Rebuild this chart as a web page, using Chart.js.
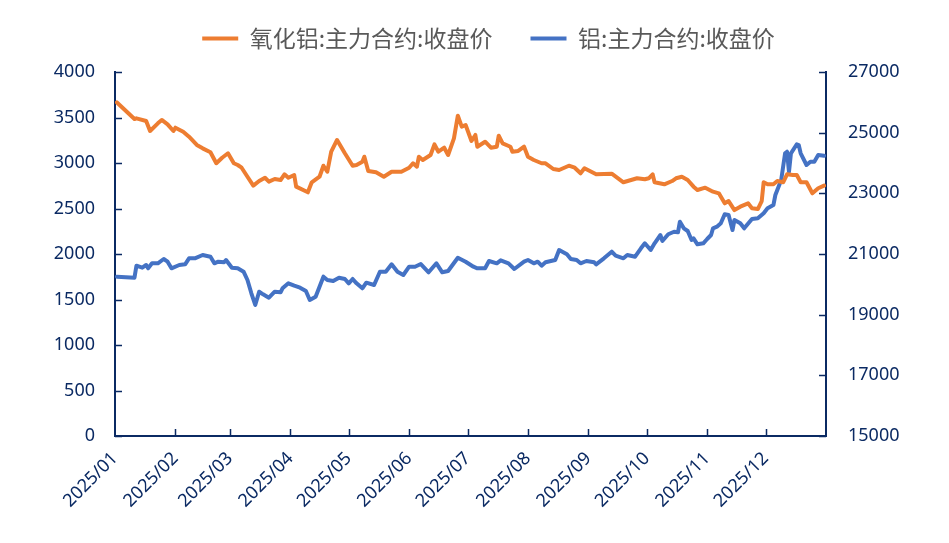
<!DOCTYPE html>
<html>
<head>
<meta charset="utf-8">
<script src="https://cdn.jsdelivr.net/npm/chart.js@4.4.1/dist/chart.umd.min.js"></script>
<style>
html, body { margin: 0; padding: 0; background: #fff; }
</style>
</head>
<body>
<canvas id="priceChart" width="949" height="543"></canvas>
<script>
const monthLabels = ['2025/01', '2025/02', '2025/03', '2025/04', '2025/05', '2025/06',
    '2025/07', '2025/08', '2025/09', '2025/10', '2025/11', '2025/12'];

const aluminaName = '氧化铝:主力合约:收盘价';
const aluminaDates = ['01-02','01-11','01-12','01-17','01-19','01-23','01-25','01-28','01-31',
    '02-01','02-05','02-08','02-12','02-15','02-19','02-22','02-25','02-28',
    '03-03','03-05','03-07','03-10','03-13','03-16','03-19','03-21','03-24','03-27','03-29','03-31',
    '04-03','04-04','04-10','04-12','04-16','04-18','04-20','04-22','04-25','04-29',
    '05-03','05-05','05-08','05-09','05-11','05-15','05-19','05-23','05-28',
    '06-01','06-03','06-05','06-06','06-08','06-12','06-14','06-16','06-19','06-21','06-24','06-26','06-28','06-30',
    '07-03','07-05','07-06','07-10','07-13','07-16','07-17','07-19','07-23','07-24','07-27','07-30',
    '08-01','08-04','08-08','08-10','08-14','08-17','08-22','08-25','08-28','08-30',
    '09-04','09-05','09-13','09-19','09-26','09-30',
    '10-02','10-04','10-05','10-10','10-14','10-16','10-19','10-22','10-25','10-27','10-31',
    '11-04','11-07','11-10','11-12','11-15','11-18','11-22','11-24','11-27','11-29','11-30',
    '12-02','12-05','12-07','12-10','12-12','12-15','12-17','12-19','12-22','12-25','12-28','12-31'];
const aluminaClose = [3665,3483,3491,3462,3352,3436,3473,3425,3352,
    3388,3344,3289,3198,3161,3118,2997,3058,3107,
    2997,2978,2948,2849,2751,2802,2838,2795,2824,2813,2876,2838,
    2868,2740,2678,2788,2849,2970,2904,3124,3253,3107,
    2970,2978,3014,3069,2912,2898,2849,2904,2904,
    2948,2997,2959,3069,3033,3088,3205,3124,3168,3088,3271,3520,3399,3418,
    3242,3308,3179,3234,3168,3179,3300,3216,3179,3124,3132,3179,
    3069,3033,2997,2997,2934,2923,2970,2948,2887,2942,
    2887,2876,2882,2788,2832,2821,
    2832,2876,2788,2766,2802,2832,2849,2813,2740,2703,2729,
    2685,2667,2557,2582,2483,2520,2557,2502,2494,2582,2788,
    2766,2766,2802,2788,2876,2868,2868,2788,2788,2667,2722,2751];

const aluName = '铝:主力合约:收盘价';
const aluDates = ['01-02','01-11','01-12','01-15','01-17','01-18','01-20','01-23','01-26','01-28','01-30',
    '02-03','02-06','02-08','02-11','02-15','02-19','02-21','02-23','02-26','02-27',
    '03-02','03-05','03-08','03-10','03-12','03-14','03-16','03-18','03-21','03-24','03-27','03-28','03-31',
    '04-03','04-06','04-09','04-11','04-14','04-16','04-18','04-20','04-23','04-26','04-29',
    '05-01','05-03','05-05','05-08','05-10','05-14','05-17','05-20','05-23','05-26','05-29',
    '06-01','06-04','06-07','06-11','06-15','06-18','06-21','06-26','06-30',
    '07-04','07-06','07-10','07-12','07-16','07-18','07-22','07-25','07-30',
    '08-01','08-04','08-06','08-08','08-10','08-15','08-17','08-21','08-23','08-26','08-28','08-31',
    '09-04','09-05','09-09','09-13','09-15','09-19','09-21','09-25','09-28','09-30',
    '10-03','10-05','10-08','10-09','10-12','10-15','10-17','10-18','10-20','10-22','10-24','10-25','10-27','10-30',
    '11-01','11-03','11-04','11-06','11-08','11-10','11-12','11-14','11-15','11-18','11-20','11-24','11-27','11-30',
    '12-02','12-05','12-06','12-09','12-11','12-12','12-13','12-14','12-17','12-18','12-19','12-22','12-24','12-26','12-28','12-31'];
const aluClose = [20252,20219,20614,20548,20637,20529,20693,20693,20835,20746,20529,
    20637,20660,20858,20858,20967,20911,20693,20746,20726,20802,
    20548,20529,20416,20143,19704,19319,19757,19671,19559,19757,19737,19869,20034,
    19955,19889,19780,19483,19592,19922,20252,20143,20110,20219,20176,
    20034,20176,20034,19869,20054,19978,20416,20416,20660,20416,20308,
    20581,20581,20670,20397,20693,20397,20440,20878,20746,
    20581,20529,20529,20769,20693,20792,20693,20505,20746,
    20802,20693,20746,20614,20726,20802,21132,20990,20835,20802,20693,20769,
    20726,20660,20858,21076,20944,20858,20967,20911,21188,21353,
    21132,21353,21626,21429,21650,21735,21715,22065,21847,21758,21462,21518,21320,21353,
    21495,21626,21847,21900,22012,22309,22286,21791,22121,22012,21847,22154,22177,22342,
    22507,22615,22945,23440,24320,24373,23713,24320,24617,24593,24320,23934,24043,24043,24264,24241];

const axisColor = '#0b2a63';
const labelColor = '#0b2a63';
const yearStart = Date.UTC(2025, 0, 1);

function dayOf(month, day) {
    return (Date.UTC(2025, month - 1, day) - yearStart) / 86400000;
}

function toPoints(dates, values) {
    return dates.map((md, i) => {
        const [m, d] = md.split('-').map(Number);
        return { x: dayOf(m, d), y: values[i] };
    });
}

const monthStarts = monthLabels.map(l => dayOf(Number(l.split('/')[1]), 1));

// legend box gets a fixed height so the plot starts where the original does
const legendHeight = {
    id: 'legendHeight',
    beforeLayout(chart) {
        const lg = chart.legend;
        if (lg && !lg._fixed) {
            const fit = lg.fit.bind(lg);
            lg.fit = function () { fit(); this.height = 83; };
            lg._fixed = true;
        }
    }
};

// tick marks pointing into the plot, like the original
const innerTicks = {
    id: 'innerTicks',
    afterDraw(chart) {
        const { ctx, chartArea, scales } = chart;
        const len = 7;
        ctx.save();
        ctx.strokeStyle = axisColor;
        ctx.lineWidth = 1.5;
        ctx.beginPath();
        scales.x.ticks.forEach(t => {
            if (t.value <= 0) return;
            const px = Math.round(scales.x.getPixelForValue(t.value)) + 0.5;
            ctx.moveTo(px, chartArea.bottom);
            ctx.lineTo(px, chartArea.bottom - len);
        });
        scales.y.ticks.forEach(t => {
            const py = Math.round(scales.y.getPixelForValue(t.value)) + 0.5;
            ctx.moveTo(chartArea.left, py);
            ctx.lineTo(chartArea.left + len, py);
        });
        scales.y1.ticks.forEach(t => {
            const py = Math.round(scales.y1.getPixelForValue(t.value)) + 0.5;
            ctx.moveTo(chartArea.right, py);
            ctx.lineTo(chartArea.right - len, py);
        });
        ctx.stroke();
        ctx.restore();
    }
};

const tickFont = { family: '"Noto Sans", sans-serif', size: 18 };

new Chart(document.getElementById('priceChart'), {
    type: 'line',
    data: {
        datasets: [{
            label: aluminaName,
            data: toPoints(aluminaDates, aluminaClose),
            borderColor: '#ED7D31',
            backgroundColor: '#ED7D31',
            borderWidth: 4,
            borderCapStyle: 'round',
            borderJoinStyle: 'round',
            pointRadius: 0,
            tension: 0,
            yAxisID: 'y'
        }, {
            label: aluName,
            data: toPoints(aluDates, aluClose),
            borderColor: '#4472C4',
            backgroundColor: '#4472C4',
            borderWidth: 4,
            borderCapStyle: 'round',
            borderJoinStyle: 'round',
            pointRadius: 0,
            tension: 0,
            yAxisID: 'y1'
        }]
    },
    options: {
        responsive: false,
        animation: false,
        layout: { padding: { left: 28, right: 0, top: -11, bottom: 0 } },
        plugins: {
            legend: {
                position: 'top',
                labels: {
                    usePointStyle: true,
                    pointStyle: 'line',
                    pointStyleWidth: 36,
                    padding: 38,
                    color: '#595959',
                    font: { family: '"Noto Sans CJK SC", sans-serif', size: 23 }
                }
            },
            tooltip: { enabled: false }
        },
        scales: {
            x: {
                type: 'linear',
                min: 0,
                max: 365,
                afterBuildTicks: s => { s.ticks = monthStarts.map(v => ({ value: v })); },
                afterFit: s => { s.height = 107; },
                grid: { display: false, drawTicks: false },
                border: { display: true, color: axisColor, width: 2 },
                ticks: {
                    autoSkip: false,
                    maxRotation: 45,
                    minRotation: 45,
                    padding: 12,
                    color: labelColor,
                    font: tickFont,
                    callback: (v, i) => monthLabels[i]
                }
            },
            y: {
                position: 'left',
                min: 0,
                max: 4000,
                afterFit: s => { s.width = 87; },
                grid: { display: false, drawTicks: false },
                border: { display: true, color: axisColor, width: 2 },
                ticks: { stepSize: 500, padding: 20, color: labelColor, font: tickFont, callback: v => String(v) }
            },
            y1: {
                position: 'right',
                min: 15000,
                max: 27000,
                afterFit: s => { s.width = 123; },
                grid: { display: false, drawTicks: false },
                border: { display: true, color: axisColor, width: 2 },
                ticks: { stepSize: 2000, padding: 22, color: labelColor, font: tickFont, callback: v => String(v) }
            }
        }
    },
    plugins: [legendHeight, innerTicks]
});
</script>
</body>
</html>
